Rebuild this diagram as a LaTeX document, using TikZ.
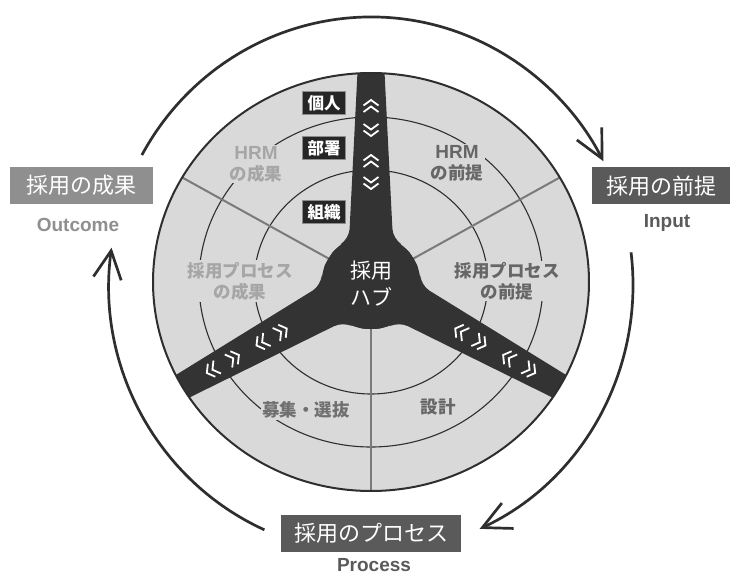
\documentclass[tikz,border=0pt]{standalone}
\usepackage{fontspec}
\newfontfamily\jp{Noto Sans CJK JP}
\newfontfamily\lat{Liberation Sans}
\usetikzlibrary{arrows.meta,calc}
\definecolor{diskfill}{HTML}{D9D9D9}
\definecolor{darkc}{HTML}{2E2E2E}
\definecolor{spokec}{HTML}{333333}
\definecolor{divc}{HTML}{7A7A7A}
\definecolor{lightlab}{HTML}{A6A6A6}
\definecolor{darklab}{HTML}{666666}
\definecolor{midlab}{HTML}{707070}
\definecolor{boxlight}{HTML}{8F8F8F}
\definecolor{boxdark}{HTML}{5A5A5A}
\tikzset{
  ring/.style={draw=darkc, line width=1.1pt},
  divider/.style={draw=divc, line width=2pt},
  clabel/.style={fill=diskfill, inner sep=1.5pt, align=center, font={\jp\bfseries\fontsize{17.5}{21}\selectfont}},
  tagbox/.style={fill=black!85, draw=black!45, line width=0.6pt, text=white, minimum width=43pt, minimum height=23pt, inner sep=0pt, font={\jp\bfseries\fontsize{16.5}{18}\selectfont}},
  bigbox/.style={text=white, minimum height=37pt, inner sep=0pt, font={\jp\fontsize{22}{24}\selectfont}},
  engl/.style={font={\lat\bfseries\fontsize{19}{22}\selectfont}},
  cyc/.style={draw=darkc, line width=2.7pt, -{Straight Barb[length=28pt,width=28pt,line width=2.7pt]}},
  chev/.pic={\draw[white, line width=1.8pt, line join=miter] (-7.5,-6)--(0,-0.5)--(7.5,-6) (-7.5,0.5)--(0,6)--(7.5,0.5);}
}
\begin{document}
\begin{tikzpicture}[x=1pt,y=1pt]
\useasboundingbox (0,0) rectangle (731,574);
\fill[white] (0,0) rectangle (731,574);

% cycle arrows
\draw[cyc] (371,289) ++(151:262 and 268) arc[start angle=151, end angle=27.5, x radius=262, y radius=268];
\draw[cyc] (371,289) ++(7:262 and 268) arc[start angle=7, end angle=-65.5, x radius=262, y radius=268];
\draw[cyc] (371,289) ++(246:262 and 268) arc[start angle=246, end angle=172, x radius=262, y radius=268];

\begin{scope}[shift={(371,292)}, xscale=1.043]
  \fill[diskfill] (0,0) circle (209);
  \draw[ring] (0,0) circle (112);
  \draw[ring] (0,0) circle (165);
  \foreach \t in {30,150,270} { \draw[divider] (\t:45) -- (\t:209); }
  \begin{scope}
    \clip (0,0) circle (209);
    \fill[spokec, rounded corners=10]
      ($(90:240)+(0:11.5)$) -- ($(90:240)+(180:11.5)$) -- ($(90:43)+(180:21)$)
      -- (130:48) -- (150:48) -- (170:48)
      -- ($(210:43)+(120:21)$) -- ($(210:240)+(120:11.5)$) -- ($(210:240)+(300:11.5)$) -- ($(210:43)+(300:21)$)
      -- (250:48) -- (270:48) -- (290:48)
      -- ($(330:43)+(240:21)$) -- ($(330:240)+(240:11.5)$) -- ($(330:240)+(60:11.5)$) -- ($(330:43)+(60:21)$)
      -- (10:48) -- (30:48) -- (50:48)
      -- ($(90:43)+(0:21)$) -- cycle;
    \fill[spokec] (0,0) circle (47);
  \end{scope}
  \foreach \t in {90,210,330} {
    \foreach \r/\rr in {176/-90,152/90,121/-90,99/90} {
      \path (\t:\r) pic[rotate=\t+\rr] {chev};
    }
  }
  \draw[darkc, line width=2pt] (0,0) circle (209);
\end{scope}

% hub label
\node[text=white, align=center, font={\jp\fontsize{21}{27}\selectfont}] (hub) at (371,290) {採用\\ハブ};

% spoke tags
\node[tagbox] (kojin) at (324,471) {個人};
\node[tagbox] (busho) at (324,426) {部署};
\node[tagbox] (soshiki) at (324,362) {組織};

% sector labels
\node[clabel, text=lightlab] (hrmout) at (256,410) {{\lat\bfseries\fontsize{19}{21}\selectfont HRM}\\の成果};
\node[clabel, text=lightlab] (procout) at (240,293) {採用プロセス\\の成果};
\node[clabel, text=darklab] (hrmin) at (457,411) {{\lat\bfseries\fontsize{19}{21}\selectfont HRM}\\の前提};
\node[clabel, text=darklab] (procin) at (507,293) {採用プロセス\\の前提};
\node[clabel, text=midlab] (boshu) at (306,164) {募集・選抜};
\node[clabel, text=darklab] (sekkei) at (438,167) {設計};

% outer labels
\node[bigbox, fill=boxlight, minimum width=143pt] (outbox) at (81.5,388.5) {採用の成果};
\node[engl, text=boxlight] (outcome) at (78,349) {Outcome};
\node[bigbox, fill=boxdark, minimum width=138pt] (inbox) at (661,388) {採用の前提};
\node[engl, text=boxdark] (input) at (667,351) {Input};
\node[bigbox, fill=boxdark, minimum width=180pt] (procbox) at (371,40.5) {採用のプロセス};
\node[engl, text=boxdark] (process) at (374,9) {Process};
\end{tikzpicture}
\end{document}
